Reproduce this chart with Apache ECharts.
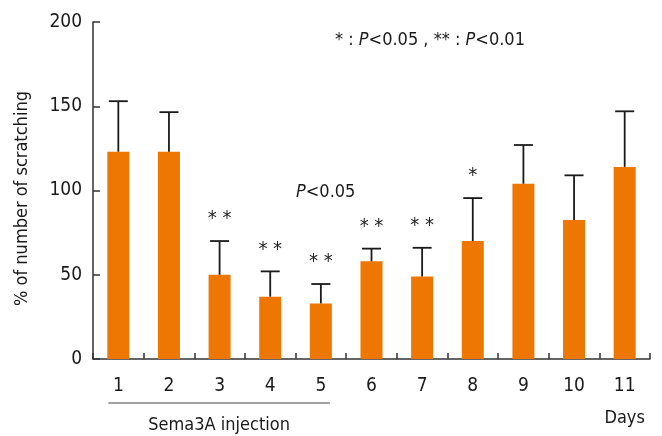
<!DOCTYPE html>
<html>
<head>
<meta charset="utf-8">
<script src="https://cdn.jsdelivr.net/npm/echarts@6/dist/echarts.min.js"></script>
<style>
  html, body { margin: 0; padding: 0; background: #fff; }
  #chart { width: 662px; height: 436px; }
</style>
</head>
<body>
<div id="chart"></div>
<script>
// Days of observation
const days = ['1', '2', '3', '4', '5', '6', '7', '8', '9', '10', '11'];
// Mean % of number of scratching per day
const means = [123, 123, 50, 37, 33, 58, 49, 70, 104, 82.5, 114];
// Upper end of the error bar (mean + SD)
const upperErr = [153, 146.5, 70, 52, 44.5, 65.5, 66, 95.5, 127, 109, 147];
// Significance markers over each bar
const marks = ['', '', '* *', '* *', '* *', '* *', '* *', '*', '', '', ''];
// Y axis range / ticks
const yTicks = [0, 50, 100, 150, 200];

const FONT = '"Liberation Sans Narrow", "DejaVu Sans Condensed", "Liberation Sans", sans-serif';
const FS = 18;
const BAR_COLOR = '#EE7602';
const INK = '#1a1a1a';

const chart = echarts.init(document.getElementById('chart'), null, { renderer: 'canvas' });

const textStyle = (extra) => Object.assign({
  fill: INK, fontFamily: FONT, fontSize: FS, fontWeight: 'normal'
}, extra || {});
const italicRich = { i: { fontStyle: 'italic', fontFamily: FONT, fontSize: FS, fontWeight: 'normal', fill: INK } };

const option = {
  animation: false,
  backgroundColor: '#fff',
  grid: { left: 93, top: 22, width: 557, height: 337, containLabel: false },
  xAxis: {
    type: 'category',
    data: days,
    boundaryGap: true,
    axisLine: { lineStyle: { color: '#333', width: 1.5 } },
    axisTick: { show: true, inside: true, length: 6, interval: 0, lineStyle: { color: '#333', width: 1.5 } },
    axisLabel: { color: INK, fontFamily: FONT, fontSize: 19, margin: 18, interval: 0 }
  },
  yAxis: {
    type: 'value',
    min: yTicks[0],
    max: yTicks[yTicks.length - 1],
    interval: 50,
    name: '% of number of scratching',
    nameLocation: 'middle',
    nameRotate: 90,
    nameGap: 62,
    nameTextStyle: { color: INK, fontFamily: FONT, fontSize: FS, padding: [0, 16, 0, 0] },
    axisLine: { show: true, lineStyle: { color: '#333', width: 1.5 } },
    axisTick: { show: true, inside: true, length: 7, lineStyle: { color: '#333', width: 1.5 } },
    splitLine: { show: false },
    axisLabel: { color: INK, fontFamily: FONT, fontSize: 19, margin: 11 }
  },
  series: [
    {
      type: 'bar',
      data: means,
      barWidth: 22,
      itemStyle: { color: BAR_COLOR },
      z: 2
    },
    {
      // error bars with caps, plus significance markers above them
      type: 'custom',
      data: days.map((d, i) => [i, means[i], upperErr[i]]),
      renderItem: function (params, api) {
        const i = api.value(0);
        const base = api.coord([i, api.value(1)]);
        const top = api.coord([i, api.value(2)]);
        const half = 9.5;
        const children = [
          {
            type: 'line',
            shape: { x1: base[0], y1: base[1], x2: top[0], y2: top[1] },
            style: { stroke: INK, lineWidth: 1.8 }
          },
          {
            type: 'line',
            shape: { x1: top[0] - half, y1: top[1], x2: top[0] + half, y2: top[1] },
            style: { stroke: INK, lineWidth: 1.8 }
          }
        ];
        const m = marks[i];
        if (m) {
          children.push({
            type: 'text',
            style: {
              text: m,
              x: top[0],
              y: top[1] - 22,
              fill: '#222',
              fontFamily: FONT,
              fontSize: 20,
              align: 'center',
              verticalAlign: 'middle'
            }
          });
        }
        return { type: 'group', children: children };
      },
      z: 3
    }
  ]
};

chart.setOption(option);

// Underline spanning the injection days, with captions and the significance key
const startX = chart.convertToPixel({ xAxisIndex: 0 }, '1') - 10;
const endX = chart.convertToPixel({ xAxisIndex: 0 }, '5') + 9;
const lastX = chart.convertToPixel({ xAxisIndex: 0 }, days[days.length - 1]);
chart.setOption({
  graphic: [
    {
      id: 'key',
      type: 'text',
      x: 335,
      y: 40,
      style: textStyle({ text: '* : {i|P}<0.05 , ** : {i|P}<0.01', verticalAlign: 'middle', rich: italicRich })
    },
    {
      id: 'pnote',
      type: 'text',
      x: 296,
      y: 192,
      style: textStyle({ text: '{i|P}<0.05', verticalAlign: 'middle', rich: italicRich })
    },
    {
      id: 'days',
      type: 'text',
      x: lastX,
      y: 418,
      style: textStyle({ text: 'Days', align: 'center', verticalAlign: 'middle' })
    },
    {
      id: 'injLine',
      type: 'line',
      shape: { x1: startX, y1: 403, x2: endX, y2: 403 },
      style: { stroke: '#444', lineWidth: 1.2 }
    },
    {
      id: 'injText',
      type: 'text',
      x: (startX + endX) / 2,
      y: 425,
      style: textStyle({ text: 'Sema3A injection', align: 'center', verticalAlign: 'middle' })
    }
  ]
});
</script>
</body>
</html>
